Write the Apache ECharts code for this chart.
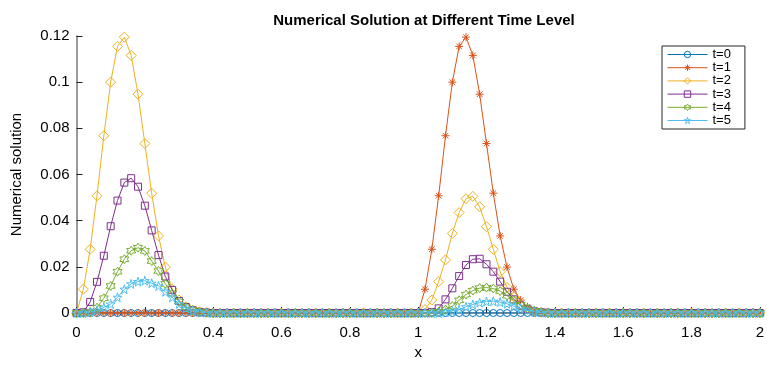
<!DOCTYPE html>
<html>
<head>
<meta charset="utf-8">
<script src="https://cdn.jsdelivr.net/npm/echarts@6/dist/echarts.min.js"></script>
<style>
  html, body { margin: 0; padding: 0; background: #fff; }
  #chart { width: 767px; height: 366px; }
</style>
</head>
<body>
<div id="chart"></div>
<script>
// Sampling grid, x = 0 : 0.02 : 2
const xGrid = [
  0.00, 0.02, 0.04, 0.06, 0.08, 0.10, 0.12, 0.14, 0.16, 0.18,
  0.20, 0.22, 0.24, 0.26, 0.28, 0.30, 0.32, 0.34, 0.36, 0.38,
  0.40, 0.42, 0.44, 0.46, 0.48, 0.50, 0.52, 0.54, 0.56, 0.58,
  0.60, 0.62, 0.64, 0.66, 0.68, 0.70, 0.72, 0.74, 0.76, 0.78,
  0.80, 0.82, 0.84, 0.86, 0.88, 0.90, 0.92, 0.94, 0.96, 0.98,
  1.00, 1.02, 1.04, 1.06, 1.08, 1.10, 1.12, 1.14, 1.16, 1.18,
  1.20, 1.22, 1.24, 1.26, 1.28, 1.30, 1.32, 1.34, 1.36, 1.38,
  1.40, 1.42, 1.44, 1.46, 1.48, 1.50, 1.52, 1.54, 1.56, 1.58,
  1.60, 1.62, 1.64, 1.66, 1.68, 1.70, 1.72, 1.74, 1.76, 1.78,
  1.80, 1.82, 1.84, 1.86, 1.88, 1.90, 1.92, 1.94, 1.96, 1.98,
  2.00
];

const u0 = [
  0, 0, 0, 0, 0, 0, 0, 0, 0, 0,
  0, 0, 0, 0, 0, 0, 0, 0, 0, 0,
  0, 0, 0, 0, 0, 0, 0, 0, 0, 0,
  0, 0, 0, 0, 0, 0, 0, 0, 0, 0,
  0, 0, 0, 0, 0, 0, 0, 0, 0, 0,
  0, 0, 0, 0, 0, 0, 0, 0, 0, 0,
  0, 0, 0, 0, 0, 0, 0, 0, 0, 0,
  0, 0, 0, 0, 0, 0, 0, 0, 0, 0,
  0, 0, 0, 0, 0, 0, 0, 0, 0, 0,
  0, 0, 0, 0, 0, 0, 0, 0, 0, 0,
  0
];

const u1 = [
  0, 0, 0, 0, 0, 0, 0, 0, 0, 0,
  0, 0, 0, 0, 0, 0, 0, 0, 0, 0,
  0, 0, 0, 0, 0, 0, 0, 0, 0, 0,
  0, 0, 0, 0, 0, 0, 0, 0, 0, 0,
  0, 0, 0, 0, 0, 0, 0, 0, 0, 0,
  0, 0.0103, 0.0276, 0.0508, 0.0768, 0.1000, 0.1155, 0.1195, 0.1116, 0.0948,
  0.0734, 0.0519, 0.0334, 0.0199, 0.0103, 0.0056, 0.0027, 0.0012, 0.0005, 0.0002,
  0, 0, 0, 0, 0, 0, 0, 0, 0, 0,
  0, 0, 0, 0, 0, 0, 0, 0, 0, 0,
  0, 0, 0, 0, 0, 0, 0, 0, 0, 0,
  0
];

const u2 = [
  0, 0.0103, 0.0276, 0.0508, 0.0768, 0.1000, 0.1155, 0.1195, 0.1116, 0.0948,
  0.0734, 0.0519, 0.0334, 0.0199, 0.0103, 0.0056, 0.0027, 0.0012, 0.0005, 0.0002,
  0, 0, 0, 0, 0, 0, 0, 0, 0, 0,
  0, 0, 0, 0, 0, 0, 0, 0, 0, 0,
  0, 0, 0, 0, 0, 0, 0, 0, 0, 0,
  0, 0.0015, 0.0056, 0.0136, 0.0230, 0.0345, 0.0435, 0.0495, 0.0505, 0.0460,
  0.0374, 0.0276, 0.0179, 0.0111, 0.0070, 0.0035, 0.0016, 0.0007, 0.0003, 0.0001,
  0, 0, 0, 0, 0, 0, 0, 0, 0, 0,
  0, 0, 0, 0, 0, 0, 0, 0, 0, 0,
  0, 0, 0, 0, 0, 0, 0, 0, 0, 0,
  0
];

const u3 = [
  0, 0.0003, 0.0048, 0.0135, 0.0248, 0.0376, 0.0487, 0.0565, 0.0584, 0.0547,
  0.0465, 0.0358, 0.0251, 0.0158, 0.0100, 0.0052, 0.0026, 0.0012, 0.0005, 0.0002,
  0, 0, 0, 0, 0, 0, 0, 0, 0, 0,
  0, 0, 0, 0, 0, 0, 0, 0, 0, 0,
  0, 0, 0, 0, 0, 0, 0, 0, 0, 0,
  0, 0, 0.0004, 0.0020, 0.0059, 0.0107, 0.0160, 0.0208, 0.0233, 0.0235,
  0.0211, 0.0179, 0.0136, 0.0092, 0.0059, 0.0033, 0.0016, 0.0007, 0.0003, 0.0001,
  0, 0, 0, 0, 0, 0, 0, 0, 0, 0,
  0, 0, 0, 0, 0, 0, 0, 0, 0, 0,
  0, 0, 0, 0, 0, 0, 0, 0, 0, 0,
  0
];

const u4 = [
  0, 0, 0.0005, 0.0023, 0.0064, 0.0117, 0.0179, 0.0233, 0.0270, 0.0283,
  0.0269, 0.0225, 0.0182, 0.0126, 0.0085, 0.0050, 0.0025, 0.0012, 0.0005, 0.0002,
  0, 0, 0, 0, 0, 0, 0, 0, 0, 0,
  0, 0, 0, 0, 0, 0, 0, 0, 0, 0,
  0, 0, 0, 0, 0, 0, 0, 0, 0, 0,
  0, 0, 0, 0.0005, 0.0015, 0.0030, 0.0055, 0.0080, 0.0097, 0.0108,
  0.0110, 0.0106, 0.0095, 0.0075, 0.0055, 0.0035, 0.0020, 0.0010, 0.0004, 0.0001,
  0, 0, 0, 0, 0, 0, 0, 0, 0, 0,
  0, 0, 0, 0, 0, 0, 0, 0, 0, 0,
  0, 0, 0, 0, 0, 0, 0, 0, 0, 0,
  0
];

const u5 = [
  0, 0, 0.0003, 0.0012, 0.0024, 0.0039, 0.0068, 0.0103, 0.0126, 0.0136,
  0.0140, 0.0129, 0.0117, 0.0092, 0.0068, 0.0039, 0.0020, 0.0010, 0.0004, 0.0001,
  0, 0, 0, 0, 0, 0, 0, 0, 0, 0,
  0, 0, 0, 0, 0, 0, 0, 0, 0, 0,
  0, 0, 0, 0, 0, 0, 0, 0, 0, 0,
  0, 0, 0, 0, 0.0004, 0.0008, 0.0015, 0.0027, 0.0037, 0.0045,
  0.0050, 0.0051, 0.0047, 0.0040, 0.0030, 0.0020, 0.0012, 0.0006, 0.0002, 0,
  0, 0, 0, 0, 0, 0, 0, 0, 0, 0,
  0, 0, 0, 0, 0, 0, 0, 0, 0, 0,
  0, 0, 0, 0, 0, 0, 0, 0, 0, 0,
  0
];

const seriesNames = ['t=0', 't=1', 't=2', 't=3', 't=4', 't=5'];
const seriesValues = [u0, u1, u2, u3, u4, u5];
const seriesColors = ['#0072BD', '#D95319', '#EDB120', '#7E2F8E', '#77AC30', '#4DBEEE'];

// Marker shapes: circle, asterisk, diamond, square, hexagram, pentagram
const ASTERISK = 'path://M0,-10L0,10M-10,0L10,0M-7,-7L7,7M-7,7L7,-7';
const HEXAGRAM = 'path://M0,-10L2.89,-5L8.66,-5L5.77,0L8.66,5L2.89,5L0,10L-2.89,5L-8.66,5L-5.77,0L-8.66,-5L-2.89,-5Z';
const PENTAGRAM = 'path://M0,-10L2.245,-3.09L9.51,-3.09L3.63,1.18L5.88,8.09L0,3.82L-5.88,8.09L-3.63,1.18L-9.51,-3.09L-2.245,-3.09Z';
const markerShapes = ['circle', ASTERISK, 'diamond', 'rect', HEXAGRAM, PENTAGRAM];
const markerSizes = [7, 8, 10, 7, 9, 9];

const FONT = '"Liberation Sans", Arial, Helvetica, sans-serif';
const CLEAR = 'rgba(255,255,255,0)';

const chart = echarts.init(document.getElementById('chart'), null, { renderer: 'canvas' });

const series = seriesNames.map((name, k) => ({
  name: name,
  type: 'line',
  data: xGrid.map((x, i) => [x, seriesValues[k][i]]),
  symbol: markerShapes[k],
  symbolSize: markerSizes[k],
  showAllSymbol: true,
  animation: false,
  lineStyle: { color: seriesColors[k], width: 1 },
  itemStyle: { color: CLEAR, borderColor: seriesColors[k], borderWidth: 1 },
  emphasis: { disabled: true },
  z: 2 + k
}));

// Legend entries: short line with a hollow marker in the middle
const legendItems = seriesNames.map((name, k) => ({
  name: name,
  itemStyle: { color: CLEAR, borderColor: seriesColors[k], borderWidth: 1 },
  lineStyle: { color: seriesColors[k], width: 1 }
}));

chart.setOption({
  animation: false,
  backgroundColor: '#ffffff',
  title: {
    text: 'Numerical Solution at Different Time Level',
    left: 419,
    top: 8,
    textAlign: 'center',
    textStyle: { fontFamily: FONT, fontSize: 15, fontWeight: 'bold', color: '#000' }
  },
  legend: {
    data: legendItems,
    orient: 'vertical',
    left: 662,
    top: 46,
    padding: [2, 14, 2, 5],
    itemWidth: 40,
    itemHeight: 8,
    itemGap: 0.2,
    borderColor: '#262626',
    borderWidth: 1,
    backgroundColor: '#fff',
    selectedMode: false,
    textStyle: { fontFamily: FONT, fontSize: 13, lineHeight: 12, color: '#000' }
  },
  grid: { left: 76.5, right: 5, top: 36, bottom: 53, containLabel: false },
  xAxis: {
    type: 'value',
    min: 0,
    max: 2,
    interval: 0.2,
    name: 'x',
    nameLocation: 'middle',
    nameGap: 32,
    nameTextStyle: { fontFamily: FONT, fontSize: 15, color: '#000' },
    axisLine: { show: true, onZero: false, lineStyle: { color: '#777', width: 1.5 } },
    axisTick: { show: true, inside: true, length: 6, lineStyle: { color: '#222' } },
    axisLabel: { fontFamily: FONT, fontSize: 15, color: '#000', margin: 12 },
    splitLine: { show: false }
  },
  yAxis: {
    type: 'value',
    min: 0,
    max: 0.12,
    interval: 0.02,
    name: 'Numerical solution',
    nameLocation: 'middle',
    nameGap: 52,
    nameTextStyle: { fontFamily: FONT, fontSize: 15, color: '#000' },
    axisLine: { show: true, lineStyle: { color: '#777', width: 1.5 } },
    axisTick: { show: true, inside: true, length: 6, lineStyle: { color: '#222' } },
    axisLabel: { fontFamily: FONT, fontSize: 15, color: '#000', margin: 7 },
    splitLine: { show: false }
  },
  series: series
});
</script>
</body>
</html>
